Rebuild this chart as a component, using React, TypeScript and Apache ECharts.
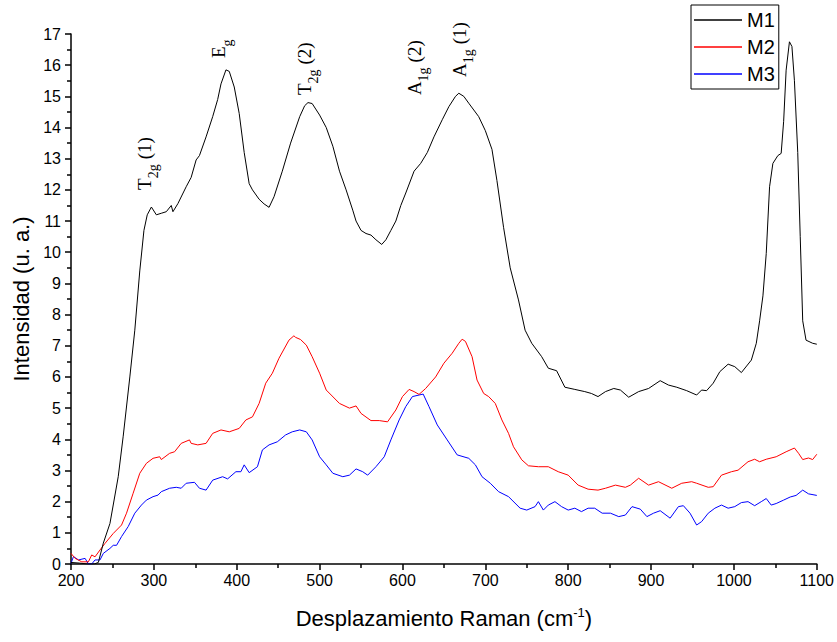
import React, { useEffect, useRef } from "react";
import * as echarts from "echarts";

// Raman shift (cm-1), intensity (a.u.) pairs
const m1: number[][] = [
  [200, 0.05], [210, 0.03], [220, 0.0], [228, 0.0], [233, 0.05], [239, 0.67], [247, 1.3], [257, 2.8],
  [263, 4.1], [271, 6.0], [277, 7.5], [283, 9.4], [288, 10.7], [292, 11.2], [297, 11.45], [303, 11.2],
  [309, 11.25], [315, 11.3], [321, 11.5], [323, 11.3], [329, 11.56], [339, 12.1], [345, 12.4], [351, 12.96],
  [355, 13.1], [363, 13.7], [371, 14.35], [377, 14.9], [381, 15.4], [387, 15.85], [391, 15.8], [397, 15.3],
  [403, 14.45], [409, 13.2], [415, 12.2], [419, 12.0], [427, 11.7], [433, 11.55], [439, 11.44], [445, 11.78],
  [455, 12.6], [465, 13.5], [476, 14.35], [482, 14.7], [486, 14.8], [491, 14.77], [500, 14.4], [508, 14.0],
  [516, 13.4], [524, 12.6], [532, 12.0], [540, 11.35], [544, 11.0], [550, 10.7], [556, 10.6], [562, 10.55],
  [568, 10.4], [575, 10.25], [580, 10.4], [586, 10.7], [592, 11.0], [598, 11.5], [604, 11.9], [614, 12.6],
  [622, 12.85], [630, 13.2], [638, 13.7], [648, 14.25], [656, 14.67], [664, 15.0], [668, 15.1], [674, 15.0],
  [680, 14.78], [692, 14.35], [700, 13.9], [708, 13.3], [714, 12.3], [722, 10.8], [730, 9.5], [740, 8.47],
  [748, 7.5], [756, 7.08], [768, 6.65], [776, 6.28], [786, 6.2], [796, 5.67], [808, 5.6], [820, 5.53],
  [828, 5.47], [836, 5.37], [845, 5.53], [855, 5.63], [863, 5.58], [873, 5.35], [885, 5.53], [897, 5.63],
  [911, 5.88], [921, 5.74], [931, 5.67], [943, 5.56], [955, 5.42], [961, 5.58], [967, 5.56], [975, 5.8],
  [983, 6.17], [993, 6.41], [1001, 6.33], [1009, 6.14], [1021, 6.54], [1027, 7.08], [1031, 7.8], [1035, 8.6],
  [1039, 9.96], [1043, 12.1], [1047, 12.85], [1053, 13.1], [1057, 13.17], [1060, 14.2], [1063, 15.84],
  [1067, 16.75], [1070, 16.6], [1073, 15.5], [1077, 13.2], [1080, 10.5], [1083, 7.8], [1087, 7.18],
  [1095, 7.08], [1100, 7.05],
];

const m2: number[][] = [
  [200, 0.34], [205, 0.18], [213, 0.07], [221, 0.07], [225, 0.29], [229, 0.23], [235, 0.45], [241, 0.66],
  [251, 0.98], [261, 1.25], [267, 1.63], [275, 2.27], [283, 2.91], [291, 3.23], [299, 3.39], [307, 3.44],
  [309, 3.35], [319, 3.55], [325, 3.6], [333, 3.87], [343, 3.98], [345, 3.87], [353, 3.82], [363, 3.87],
  [371, 4.19], [381, 4.3], [391, 4.24], [403, 4.35], [411, 4.62], [419, 4.72], [427, 5.15], [435, 5.8],
  [443, 6.12], [451, 6.6], [463, 7.18], [469, 7.32], [471, 7.27], [477, 7.2], [484, 7.02], [491, 6.65],
  [500, 6.12], [508, 5.58], [514, 5.42], [524, 5.15], [536, 5.0], [544, 5.07], [550, 4.83], [562, 4.6],
  [572, 4.6], [582, 4.56], [592, 4.94], [600, 5.37], [608, 5.6], [614, 5.53], [620, 5.44], [628, 5.63],
  [640, 6.0], [650, 6.44], [660, 6.76], [668, 7.08], [672, 7.21], [676, 7.14], [684, 6.65], [690, 5.9],
  [698, 5.47], [704, 5.37], [712, 5.15], [720, 4.62], [728, 4.19], [734, 3.76], [744, 3.34], [752, 3.15],
  [764, 3.12], [776, 3.12], [788, 2.96], [800, 2.85], [812, 2.53], [824, 2.4], [836, 2.37], [845, 2.43],
  [857, 2.53], [869, 2.46], [875, 2.53], [885, 2.75], [897, 2.53], [909, 2.64], [925, 2.43], [937, 2.59],
  [949, 2.64], [955, 2.59], [969, 2.46], [975, 2.48], [985, 2.85], [997, 2.96], [1005, 3.01], [1017, 3.28],
  [1025, 3.36], [1031, 3.28], [1039, 3.36], [1051, 3.44], [1063, 3.6], [1073, 3.72], [1078, 3.55],
  [1083, 3.35], [1090, 3.4], [1095, 3.35], [1100, 3.52],
];

const m3: number[][] = [
  [200, 0.02], [203, 0.24], [209, 0.13], [217, 0.18], [221, 0.0], [225, 0.0], [229, 0.13], [235, 0.13],
  [239, 0.34], [247, 0.5], [251, 0.6], [255, 0.6], [261, 0.88], [269, 1.2], [277, 1.63], [285, 1.89],
  [291, 2.05], [299, 2.16], [305, 2.21], [309, 2.32], [319, 2.43], [327, 2.46], [333, 2.43], [339, 2.59],
  [349, 2.62], [355, 2.43], [363, 2.37], [371, 2.69], [383, 2.8], [389, 2.73], [399, 2.96], [405, 2.96],
  [409, 3.18], [415, 2.93], [425, 3.12], [431, 3.66], [439, 3.82], [449, 3.92], [459, 4.14], [467, 4.24],
  [476, 4.3], [484, 4.24], [491, 3.98], [500, 3.44], [508, 3.18], [516, 2.91], [528, 2.8], [536, 2.85],
  [544, 3.05], [552, 2.96], [558, 2.85], [568, 3.12], [578, 3.44], [586, 3.98], [596, 4.62], [604, 5.05],
  [612, 5.37], [620, 5.42], [625, 5.45], [632, 5.05], [642, 4.46], [654, 3.98], [666, 3.5], [680, 3.39],
  [688, 3.18], [696, 2.8], [706, 2.59], [716, 2.32], [728, 2.16], [742, 1.79], [750, 1.73], [760, 1.84],
  [764, 2.0], [770, 1.73], [776, 1.89], [784, 2.0], [792, 1.84], [800, 1.73], [808, 1.79], [816, 1.68],
  [824, 1.79], [832, 1.79], [841, 1.63], [851, 1.63], [861, 1.52], [869, 1.57], [877, 1.84], [887, 1.76],
  [895, 1.52], [903, 1.63], [911, 1.71], [923, 1.47], [933, 1.84], [939, 1.87], [947, 1.63], [955, 1.25],
  [961, 1.36], [969, 1.63], [977, 1.79], [985, 1.89], [993, 1.79], [1001, 1.84], [1009, 1.97], [1017, 2.0],
  [1025, 1.87], [1033, 2.0], [1039, 2.1], [1045, 1.89], [1051, 1.94], [1060, 2.05], [1068, 2.15],
  [1075, 2.2], [1083, 2.37], [1090, 2.25], [1100, 2.2],
];

const seriesNames = ["M1", "M2", "M3"];
const seriesColors = ["#000000", "#ff0000", "#0000ff"];

// Peak labels: main letter, subscript, mode number, anchored at (x value, y value) of the text start
const peakMain = ["T", "E", "T", "A", "A"];
const peakSub = ["2g", "g", "2g", "1g", "1g"];
const peakNum = ["(1)", "", "(2)", "(2)", "(1)"];
const peakX = [289, 378, 482, 614, 669];
const peakY = [12.0, 16.23, 15.04, 15.04, 15.62];

const SANS = "'Liberation Sans', Arial, Helvetica, sans-serif";
const SERIF = "'Liberation Serif', 'Times New Roman', Times, serif";

function measure(text: string, font: string): number {
  const c = document.createElement("canvas").getContext("2d");
  if (!c) return text.length * 8;
  c.font = font;
  return c.measureText(text).width;
}

export default function App() {
  const ref = useRef<HTMLDivElement>(null);
  useEffect(() => {
    if (!ref.current) return;
    const chart = echarts.init(ref.current, null, { renderer: "svg" });
    const mainSize = 19;
    const subSize = 14;
    const axisCommon = {
      axisLine: { show: true, onZero: false, lineStyle: { color: "#000", width: 1.5 } },
      axisTick: { show: true, inside: false, length: 6, lineStyle: { color: "#000", width: 1.5 } },
      minorTick: { show: true, splitNumber: 2, length: 4, lineStyle: { color: "#000", width: 1.5 } },
      splitLine: { show: false },
    };
    const option: any = {
      animation: false,
      backgroundColor: "#ffffff",
      grid: { left: 71, right: 18, top: 34, bottom: 78, containLabel: false },
      legend: {
        orient: "vertical",
        left: 691,
        top: 5,
        padding: [5, 4, 5, 3],
        itemGap: 7,
        itemWidth: 48,
        itemHeight: 1.5,
        icon: "rect",
        borderColor: "#000",
        borderWidth: 1,
        borderRadius: 0,
        backgroundColor: "#fff",
        data: seriesNames,
        textStyle: { fontFamily: SANS, fontSize: 20, color: "#000", lineHeight: 20 },
      },
      xAxis: {
        type: "value",
        min: 200,
        max: 1100,
        interval: 100,
        name: "Desplazamiento Raman (cm{sup|-1})",
        nameLocation: "middle",
        nameGap: 42,
        nameTextStyle: {
          fontFamily: SANS,
          fontSize: 22,
          color: "#000",
          rich: { sup: { fontFamily: SANS, fontSize: 13, color: "#000", verticalAlign: "top", padding: [0, 0, 11, 0] } },
        },
        ...axisCommon,
        axisLabel: { fontFamily: SANS, fontSize: 16, color: "#000", margin: 8, formatter: (v: number) => String(v) },
      },
      yAxis: {
        type: "value",
        min: 0,
        max: 17,
        interval: 1,
        name: "Intensidad (u. a.)",
        nameLocation: "middle",
        nameGap: 36,
        nameTextStyle: { fontFamily: SANS, fontSize: 22, color: "#000" },
        ...axisCommon,
        axisLabel: { fontFamily: SANS, fontSize: 16, color: "#000", margin: 10, formatter: (v: number) => String(v) },
      },
      series: [m1, m2, m3].map((d, i) => ({
        name: seriesNames[i],
        type: "line",
        data: d,
        symbol: "none",
        smooth: false,
        color: seriesColors[i],
        lineStyle: { color: seriesColors[i], width: 1 },
        z: 3 - i,
      })),
    };
    chart.setOption(option);

    // peak annotations (rotated, with subscripts), positioned through the axes
    const mainFont = `${mainSize}px ${SERIF}`;
    const subFont = `${subSize}px ${SERIF}`;
    const groups = peakMain.map((m, i) => {
      const p = chart.convertToPixel({ gridIndex: 0 }, [peakX[i], peakY[i]]) as number[];
      const wMain = measure(m, mainFont);
      const wSub = measure(peakSub[i], subFont);
      const children: any[] = [
        { type: "text", x: 0, y: 0, style: { text: m, font: mainFont, fill: "#000", align: "left", verticalAlign: "middle" } },
        { type: "text", x: wMain, y: 9, style: { text: peakSub[i], font: subFont, fill: "#000", align: "left", verticalAlign: "middle" } },
      ];
      if (peakNum[i]) {
        children.push({
          type: "text",
          x: wMain + wSub + 5,
          y: 0,
          style: { text: peakNum[i], font: mainFont, fill: "#000", align: "left", verticalAlign: "middle" },
        });
      }
      return { type: "group", x: p[0], y: p[1], rotation: Math.PI / 2, children, z: 10 };
    });
    chart.setOption({ graphic: groups });

    return () => chart.dispose();
  }, []);
  return <div ref={ref} style={{ position: "fixed", left: 0, top: 0, width: 837, height: 642 }} />;
}
